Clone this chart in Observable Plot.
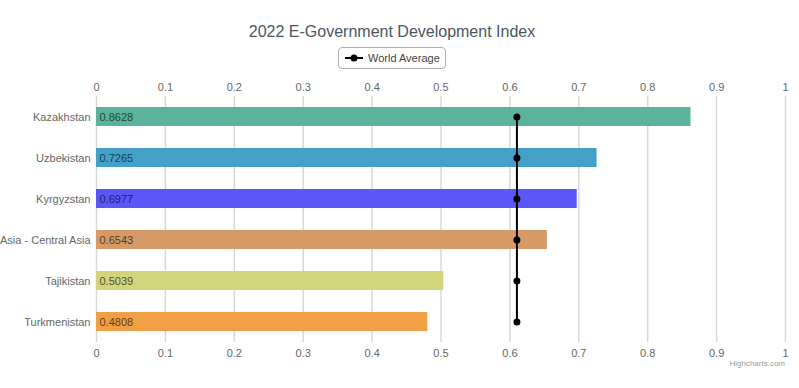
<!DOCTYPE html>
<html>
<head>
<meta charset="utf-8">
<script src="https://cdn.jsdelivr.net/npm/d3@7"></script>
<script src="https://cdn.jsdelivr.net/npm/@observablehq/plot@0.6"></script>
<style>
  body { margin: 0; background: #fff; font-family: "Liberation Sans", Arial, sans-serif; }
  #wrap { position: relative; width: 799px; height: 388px; overflow: hidden; }
  #title { position: absolute; left: 0; width: 784px; top: 23px; text-align: center; font-size: 16px; color: #4a5663; }
  #legend { position: absolute; left: 338px; top: 47px; width: 108px; height: 22px; border: 1px solid #b0b0b0; border-radius: 4px; box-sizing: border-box; font-size: 11px; color: #444; display: flex; align-items: center; }
  #legend svg { margin-left: 6px; margin-right: 5px; }
  #credit { position: absolute; right: 14px; top: 359px; font-size: 8px; color: #999; line-height: 9px; }
  #chart { position: absolute; left: 0; top: 0; }
</style>
</head>
<body>
<div id="wrap">
  <div id="chart"></div>
  <div id="title">2022 E-Government Development Index</div>
  <div id="legend"><svg width="18" height="8"><line x1="0" y1="4" x2="18" y2="4" stroke="#000" stroke-width="2"/><circle cx="9" cy="4" r="3.5" fill="#000"/></svg>World Average</div>
  <div id="credit">Highcharts.com</div>
</div>
<script>
const countries = ["Kazakhstan", "Uzbekistan", "Kyrgyzstan", "Asia - Central Asia", "Tajikistan", "Turkmenistan"];
const values = [0.8628, 0.7265, 0.6977, 0.6543, 0.5039, 0.4808];
const colors = ["#5cb39b", "#44a0c9", "#5b57f7", "#d59a68", "#d2d57c", "#f19f45"];
const worldAverage = 0.6102;
const xTicks = [0, 0.1, 0.2, 0.3, 0.4, 0.5, 0.6, 0.7, 0.8, 0.9, 1];
const xTickLabels = ["0", "0.1", "0.2", "0.3", "0.4", "0.5", "0.6", "0.7", "0.8", "0.9", "1"];

const data = countries.map((c, i) => ({country: c, value: values[i], color: colors[i], avg: worldAverage}));

const chart = Plot.plot({
  width: 799,
  height: 388,
  marginLeft: 96,
  marginRight: 14,
  marginTop: 96,
  marginBottom: 46,
  style: {fontFamily: "'Liberation Sans', Arial, sans-serif", fontSize: "11px", background: "transparent"},
  x: {domain: [0, 1]},
  y: {domain: countries, paddingInner: 0.53, paddingOuter: 0.265, align: 0.5},
  marks: [
    Plot.ruleX(xTicks, {stroke: "#d8d8d8", strokeWidth: 1.5}),
    Plot.axisX(xTicks, {anchor: "top", tickSize: 0, tickPadding: 6, tickFormat: (d, i) => xTickLabels[i], fill: "#666", label: null}),
    Plot.axisX(xTicks, {anchor: "bottom", tickSize: 0, tickPadding: 7, tickFormat: (d, i) => xTickLabels[i], fill: "#666", label: null}),
    Plot.axisY({tickSize: 0, tickPadding: 6, fill: "#666", label: null}),
    Plot.barX(data, {x: "value", y: "country", fill: "color"}),
    Plot.text(data, {x: 0, y: "country", text: d => d.value.toFixed(4), textAnchor: "start", dx: 3, fill: d => d3.color(d.color).darker(2.6).formatHex(), fontSize: 11}),
    Plot.line(data, {x: "avg", y: "country", stroke: "#000", strokeWidth: 2}),
    Plot.dot(data, {x: "avg", y: "country", r: 3.5, fill: "#000"})
  ]
});
document.getElementById("chart").appendChild(chart);
</script>
</body>
</html>
